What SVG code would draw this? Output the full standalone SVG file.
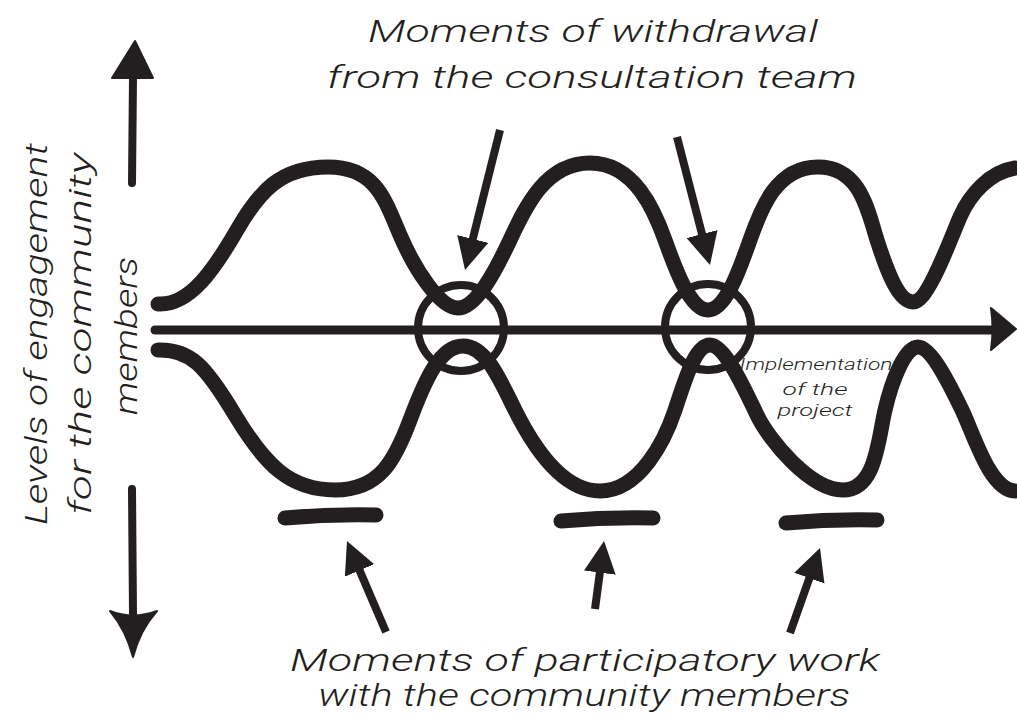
<svg xmlns="http://www.w3.org/2000/svg" width="1017" height="717" viewBox="0 0 1017 717">
<defs>
<style>
.ink{fill:none;stroke:#231f20;stroke-linecap:round;stroke-linejoin:round}
.wave{stroke-width:15}
.ring{stroke-width:8}
.bar{stroke-width:15}
.arw{stroke-width:8;stroke-linecap:butt}
.solid{fill:#231f20;stroke:#231f20;stroke-width:2;stroke-linejoin:round}
.hand{font-family:Roboto,Lato,"Open Sans","DejaVu Sans",sans-serif;font-weight:300;font-style:italic;fill:#231f20}
.big{font-size:32px}
.small{font-size:17px}
</style>
<marker id="head" markerUnits="userSpaceOnUse" markerWidth="40" markerHeight="40" refX="2" refY="16" orient="auto">
<path d="M0,0 L32,16 L0,32 z" fill="#231f20"/>
</marker>
</defs>
<rect width="1017" height="717" fill="#ffffff"/>

<g id="vertical-axis">
<line class="ink" x1="132" y1="183" x2="133" y2="76" stroke-width="8"/>
<path class="solid" d="M135,41 L153,78 L112,78 Z"/>
<line class="ink" x1="132" y1="489" x2="133" y2="614" stroke-width="8"/>
<path class="solid" d="M110,611 Q133,620 157,611 Q140,630 133,657 Q126,630 110,611 Z"/>
</g>

<g id="vertical-label">
<text class="hand big" transform="translate(47,334) rotate(-90)" text-anchor="middle" textLength="382" lengthAdjust="spacingAndGlyphs">Levels of engagement</text>
<text class="hand big" transform="translate(91,334) rotate(-90)" text-anchor="middle" textLength="362" lengthAdjust="spacingAndGlyphs">for the community</text>
<text class="hand big" transform="translate(137,336) rotate(-90)" text-anchor="middle" textLength="158" lengthAdjust="spacingAndGlyphs">members</text>
</g>

<g id="horizontal-axis">
<line class="ink" x1="155" y1="330" x2="995" y2="330" stroke-width="9" stroke-linecap="butt"/>
<path class="solid" d="M991,308 L1016,329 L991,350 Q994,329 991,308 Z"/>
</g>

<g id="upper-curve">
<path class="ink wave" d="M158,304 C190,306 215,268 237,230 S280,167 328,167 S385,200 400,235 S440,308 458,308 S495,272 510,240 S545,163 590,163 S655,212 665,240 S690,310 708,310 S740,268 750,240 S775,167 818,167 S868,212 877,240 S898,302 913,302 S950,240 960,217 S990,172 1015,168"/>
</g>

<g id="lower-curve">
<path class="ink wave" d="M158,350 C190,349 205,365 235,415 S290,490 335,490 S395,460 410,420 S440,346 463,346 S500,380 515,410 S560,491 600,491 S665,440 675,410 S695,345 710,345 S745,390 757,415 S810,490 843,490 S878,440 885,410 S905,347 918,347 S950,385 962,410 S990,490 1015,491"/>
</g>

<g id="withdrawal-1">
<circle class="ink ring" cx="461" cy="328" r="43"/>
</g>
<g id="withdrawal-2">
<circle class="ink ring" cx="708" cy="327" r="43"/>
</g>

<g id="participation-1">
<path class="ink bar" d="M285,518 Q330,514 376,515"/>
</g>
<g id="participation-2">
<path class="ink bar" d="M561,521 Q607,517 653,518"/>
</g>
<g id="participation-3">
<path class="ink bar" d="M786,523 Q832,519 877,520"/>
</g>

<g id="top-label">
<text class="hand big" x="593" y="42" text-anchor="middle" textLength="450" lengthAdjust="spacingAndGlyphs">Moments of withdrawal</text>
<text class="hand big" x="592" y="88" text-anchor="middle" textLength="530" lengthAdjust="spacingAndGlyphs">from the consultation team</text>
</g>

<g id="bottom-label">
<text class="hand big" x="585" y="671" text-anchor="middle" textLength="590" lengthAdjust="spacingAndGlyphs">Moments of participatory work</text>
<text class="hand big" x="584" y="706" text-anchor="middle" textLength="532" lengthAdjust="spacingAndGlyphs">with the community members</text>
</g>

<g id="implementation-label">
<text class="hand small" x="816" y="370" text-anchor="middle" textLength="153" lengthAdjust="spacingAndGlyphs">Implementation</text>
<text class="hand small" x="815" y="395" text-anchor="middle" textLength="65" lengthAdjust="spacingAndGlyphs">of the</text>
<text class="hand small" x="815" y="416" text-anchor="middle" textLength="75" lengthAdjust="spacingAndGlyphs">project</text>
</g>

<g id="connectors">
<line class="ink arw" x1="500" y1="130" x2="472.3" y2="240.9" marker-end="url(#head)"/>
<line class="ink arw" x1="677" y1="137" x2="702.5" y2="236" marker-end="url(#head)"/>
<line class="ink arw" x1="386" y1="632" x2="358.8" y2="568.6" marker-end="url(#head)"/>
<line class="ink arw" x1="595" y1="609" x2="600.1" y2="570.7" marker-end="url(#head)"/>
<line class="ink arw" x1="790" y1="633" x2="810" y2="576.3" marker-end="url(#head)"/>
</g>
</svg>
